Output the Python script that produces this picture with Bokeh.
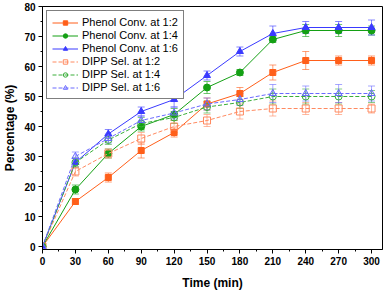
from bokeh.plotting import figure
from bokeh.models import Range1d, SingleIntervalTicker, Whisker, ColumnDataSource, Legend, LegendItem
from bokeh.embed import file_html
from bokeh.resources import INLINE

time = [0, 30, 60, 90, 120, 150, 180, 210, 240, 270, 300]
x_ticks = [0, 30, 60, 90, 120, 150, 180, 210, 240, 270, 300]
y_ticks = [0, 10, 20, 30, 40, 50, 60, 70, 80]

phenol_12 = [0, 15, 23, 32, 38, 47.5, 51, 58, 62, 62, 62]
phenol_12_err = [0, 1, 1.5, 2.5, 1.5, 2, 2, 2.5, 3, 1.5, 1.5]
phenol_14 = [0, 19, 31, 40, 44, 53, 58, 69, 72, 72, 72]
phenol_14_err = [0, 1.5, 1.5, 1.5, 2, 2, 1, 1, 2, 2, 1.5]
phenol_16 = [0, 28, 37.5, 45, 49, 57, 65, 71, 73, 73, 73]
phenol_16_err = [0, 1.5, 1.5, 1.5, 2.5, 1.5, 1.5, 2.5, 2, 2, 2.5]
dipp_12 = [0, 25, 31, 36, 40, 42, 45, 46, 46, 46, 46]
dipp_12_err = [0, 1.5, 1.5, 2, 2, 2, 2.5, 2.5, 2, 2, 1.5]
dipp_14 = [0, 28, 35.5, 41, 43, 46.5, 48, 50, 50, 50, 50]
dipp_14_err = [0, 1.5, 1.5, 2, 2, 2, 2, 2.5, 2.5, 2.5, 2]
dipp_16 = [0, 30, 36, 42, 44.5, 47.5, 49, 51, 51, 51, 51]
dipp_16_err = [0, 1.5, 1.5, 1.5, 2, 2, 2, 3, 2.5, 3, 2.5]

labels = ["Phenol Conv. at 1:2", "Phenol Conv. at 1:4", "Phenol Conv. at 1:6",
          "DIPP Sel. at 1:2", "DIPP Sel. at 1:4", "DIPP Sel. at 1:6"]

ORANGE = "#ff5f1a"
GREEN = "#14a014"
BLUE = "#3a3aff"
ORANGE_L = "#ff8a60"
GREEN_L = "#3aae3a"
BLUE_L = "#6a6aff"

FONT = "Liberation Sans"

p = figure(width=384, height=292, output_backend="svg", toolbar_location=None,
           x_range=Range1d(0, 310), y_range=Range1d(-1, 80),
           min_border_left=2, min_border_right=2, min_border_top=6, min_border_bottom=4)
p.grid.visible = False
p.background_fill_color = "white"
p.outline_line_color = "black"
p.outline_line_width = 1

for ax in (p.xaxis[0], p.yaxis[0]):
    ax.axis_line_color = "black"
    ax.axis_line_width = 1
    ax.major_tick_out = 4
    ax.major_tick_in = 0
    ax.minor_tick_out = 2
    ax.minor_tick_in = 0
    ax.major_label_text_font = FONT
    ax.major_label_text_font_style = "bold"
    ax.major_label_text_font_size = "10px"
    ax.major_label_text_color = "black"
    ax.axis_label_text_font = FONT
    ax.axis_label_text_font_style = "bold"
    ax.axis_label_text_font_size = "12px"
    ax.axis_label_text_color = "black"
    ax.major_label_standoff = 3

p.xaxis[0].axis_label_standoff = 8
p.yaxis[0].axis_label_standoff = 4
p.xaxis.ticker = SingleIntervalTicker(interval=30, num_minor_ticks=2)
p.yaxis.ticker = SingleIntervalTicker(interval=10, num_minor_ticks=2)
p.xaxis.axis_label = "Time (min)"
p.yaxis.axis_label = "Percentage (%)"

series = [
    (phenol_12, phenol_12_err, ORANGE, "square", "solid", True, 6),
    (phenol_14, phenol_14_err, GREEN, "circle", "solid", True, 7),
    (phenol_16, phenol_16_err, BLUE, "triangle", "solid", True, 7),
    (dipp_12, dipp_12_err, ORANGE_L, "square", "dashed", False, 7),
    (dipp_14, dipp_14_err, GREEN_L, "circle", "dashed", False, 7),
    (dipp_16, dipp_16_err, BLUE_L, "triangle", "dashed", False, 7),
]

items = []
for (vals, errs, color, marker, dash, filled, size), lab in zip(series, labels):
    src = ColumnDataSource(dict(x=time, y=vals,
                                lo=[v - e for v, e in zip(vals, errs)],
                                hi=[v + e for v, e in zip(vals, errs)]))
    w = Whisker(source=src, base="x", upper="hi", lower="lo",
                line_color=color, line_alpha=0.6, line_width=1)
    w.upper_head.line_color = color
    w.lower_head.line_color = color
    w.upper_head.line_alpha = 0.6
    w.lower_head.line_alpha = 0.6
    w.upper_head.size = 7
    w.lower_head.size = 7
    p.add_layout(w)
    ld = "solid" if dash == "solid" else "4 2"
    r1 = p.line("x", "y", source=src, line_color=color, line_width=1, line_dash=ld)
    r2 = p.scatter("x", "y", source=src, marker=marker, size=size,
                   line_color=color, line_width=1,
                   fill_color=color if filled else "white",
                   fill_alpha=1.0 if filled else 0.0)
    items.append(LegendItem(label=lab, renderers=[r1, r2]))

legend = Legend(items=items, location="top_left")
legend.label_text_font = FONT
legend.label_text_font_size = "11px"
legend.label_text_color = "black"
legend.label_height = 11
legend.glyph_height = 11
legend.glyph_width = 26
legend.spacing = 1
legend.padding = 5
legend.margin = 4
legend.border_line_color = "black"
legend.border_line_width = 1
legend.background_fill_alpha = 1
legend.label_standoff = 4
p.add_layout(legend)

open("out.html", "w").write(file_html(p, INLINE))
